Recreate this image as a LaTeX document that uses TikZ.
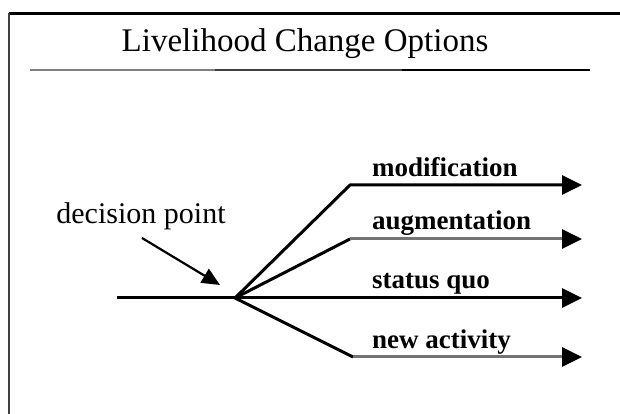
\documentclass[tikz,border=0pt]{standalone}
\usepackage{fontspec}
\setmainfont{Liberation Serif}
\usetikzlibrary{arrows.meta}
\begin{document}
\begin{tikzpicture}[x=1pt,y=1pt,
  branch/.style={line width=3pt,line join=round},
  tip/.style={-{Triangle[length=20pt,width=19pt,black]}},
  lab/.style={font=\fontsize{27}{30}\selectfont\bfseries,anchor=base west,inner sep=0pt}]
\useasboundingbox (0,0) rectangle (620,414);
\fill[white] (0,0) rectangle (620,414);
% frame
\draw[line width=3pt] (9,400) -- (620,400);
\draw[line width=2pt,black!75] (9,401) -- (9,0);
% title
\node[font=\fontsize{33}{36}\selectfont,inner sep=0pt] (title) at (305,370) {Livelihood Change Options};
\coordinate (u1) at (30,344);
\coordinate (u2) at (215,344);
\coordinate (u3) at (402,344);
\coordinate (u4) at (590,344);
\draw[line width=2.6pt,black!50] (u1) -- (u2);
\draw[line width=2.6pt,black!75] (u2) -- (u3);
\draw[line width=2.6pt,black] (u3) -- (u4);
% decision tree
\coordinate (start) at (117,116);
\coordinate (dp) at (235,116);
\coordinate (m0) at (350,229);
\coordinate (m1) at (582,229);
\coordinate (a0) at (350,175);
\coordinate (a1) at (582,175);
\coordinate (s1) at (582,116);
\coordinate (n0) at (353,57);
\coordinate (n1) at (582,57);
\draw[branch] (start) -- (dp);
\draw[branch,tip] (dp) -- (m0) -- (m1);
\draw[branch] (dp) -- (a0);
\draw[branch,black!55,tip] (a0) -- (a1);
\draw[branch,tip] (dp) -- (s1);
\draw[branch] (dp) -- (n0);
\draw[branch,black!55,tip] (n0) -- (n1);
% labels
\node[lab] (lm) at (372,237) {modification};
\node[lab] (la) at (372,184) {augmentation};
\node[lab] (ls) at (372,125) {status quo};
\node[lab] (ln) at (372,65) {new activity};
\node[font=\fontsize{30}{33}\selectfont,inner sep=0pt] (dlab) at (141,198) {decision point};
\coordinate (dtail) at (142,176);
\coordinate (dhead) at (220,129);
\draw[line width=2.2pt,-{Triangle[length=18pt,width=16pt]}] (dtail) -- (dhead);
\end{tikzpicture}
\end{document}
